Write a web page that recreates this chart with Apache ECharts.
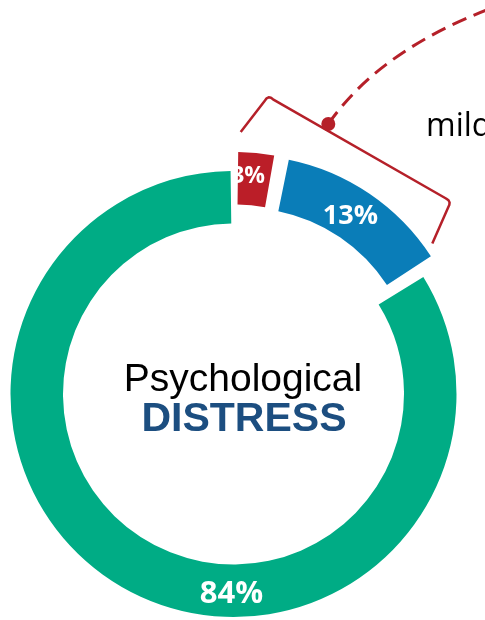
<!DOCTYPE html>
<html>
<head>
<meta charset="utf-8">
<script src="https://cdn.jsdelivr.net/npm/echarts@6/dist/echarts.min.js"></script>
<style>
  html, body { margin: 0; padding: 0; background: #ffffff; }
  #chart { width: 485px; height: 620px; }
</style>
</head>
<body>
<div id="chart"></div>
<script>
// Share of respondents by level of psychological distress (percent)
const categories = ['Severe', 'Mild', 'None'];
const shares = [3, 13, 84];
const sliceColors = ['#BB1E28', '#0A7DB8', '#00AC85'];
const pulledOut = [true, true, false];
const labelSizes = [23, 27, 31];

const centerTitle = 'Psychological';
const centerSubtitle = 'DISTRESS';
const calloutText = 'mild';

const CX = 233.5, CY = 394, R_IN = 170.5, R_OUT = 223;
const ACCENT = '#B52029';

const chart = echarts.init(document.getElementById('chart'), null, { renderer: 'canvas' });

const option = {
  backgroundColor: '#ffffff',
  animation: false,
  series: [{
    type: 'pie',
    center: [CX, CY],
    radius: [R_IN, R_OUT],
    startAngle: 90,
    clockwise: true,
    padAngle: 1.5,
    selectedMode: 'multiple',
    selectedOffset: 19,
    avoidLabelOverlap: false,
    emphasis: { disabled: true },
    itemStyle: { borderWidth: 0 },
    label: {
      show: true,
      position: 'inside',
      color: '#ffffff',
      fontFamily: 'Open Sans',
      fontWeight: 'bold',
      formatter: p => p.value + '%'
    },
    labelLine: { show: false },
    labelLayout: function (params) {
      // the large slice carries its label at the bottom of the ring
      if (params.dataIndex === 2) {
        return { x: CX - 2, y: CY + (R_IN + R_OUT) / 2 + 3, align: 'center', verticalAlign: 'middle' };
      }
      if (params.dataIndex === 0) {
        return { dx: -6 };
      }
      if (params.dataIndex === 1) {
        return { dx: -6, dy: 3 };
      }
      return {};
    },
    data: categories.map((name, i) => ({
      name: name,
      value: shares[i],
      selected: pulledOut[i],
      itemStyle: { color: sliceColors[i] },
      label: { fontSize: labelSizes[i] }
    }))
  }],
  graphic: [
    {
      type: 'text',
      style: {
        text: centerTitle,
        x: 243, y: 361,
        align: 'center', verticalAlign: 'top',
        font: '39px "Liberation Sans", Arial, sans-serif',
        fill: '#000000'
      }
    },
    {
      type: 'text',
      style: {
        text: centerSubtitle,
        x: 244, y: 399,
        align: 'center', verticalAlign: 'top',
        font: 'bold 41px "Liberation Sans", Arial, sans-serif',
        fill: '#1C4E80'
      }
    },
    {
      type: 'text',
      style: {
        text: calloutText,
        x: 426, y: 111,
        align: 'left', verticalAlign: 'top',
        font: '32px "Open Sans", sans-serif',
        fill: '#000000'
      }
    },
    {
      // bracket spanning the two pulled-out slices
      type: 'polyline',
      shape: {
        points: [
          [240.7, 132], [265, 100.5], [266.6, 98.3], [268.6, 97.3], [271, 97.8], [273, 99.3],
          [446, 198.5], [448.5, 200.3], [449.6, 202.5], [449.3, 205], [448.8, 206],
          [432.3, 243.5]
        ]
      },
      style: { fill: null, stroke: ACCENT, lineWidth: 2.5, lineJoin: 'round' }
    },
    {
      // dashed leader from the bracket to the callout
      type: 'bezierCurve',
      shape: { x1: 328.3, y1: 124, cpx1: 380, cpy1: 50, x2: 492, y2: 8 },
      style: { fill: null, stroke: ACCENT, lineWidth: 3, lineDash: [15, 8] }
    },
    {
      type: 'circle',
      shape: { cx: 328.3, cy: 124, r: 7 },
      style: { fill: ACCENT }
    }
  ]
};

chart.setOption(option);
</script>
</body>
</html>
